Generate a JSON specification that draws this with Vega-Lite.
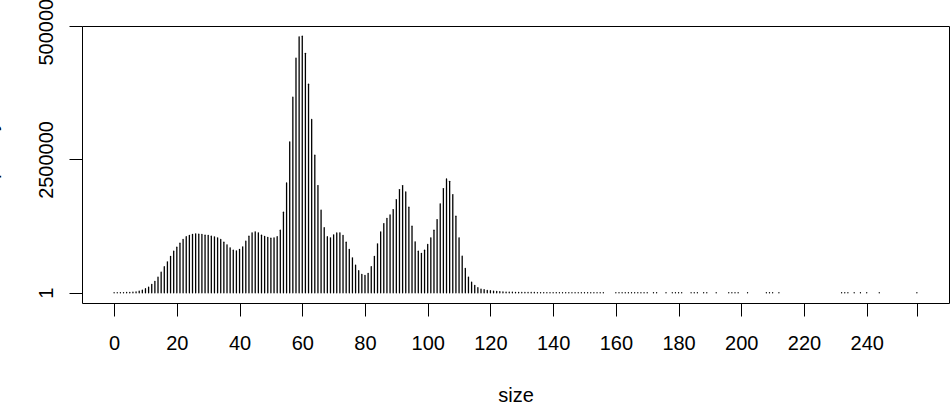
{
  "$schema": "https://vega.github.io/schema/vega-lite/v6.json",
  "width": 867,
  "height": 277,
  "autosize": {"type": "none"},
  "padding": {"left": 82, "top": 26, "right": 1, "bottom": 107},
  "background": "white",
  "config": {"view": {"stroke": "black", "strokeWidth": 1}, "font": "Liberation Sans"},
  "data": {"values": [
    {"size": 0, "frequency": 800}, {"size": 1, "frequency": 1500}, {"size": 2, "frequency": 2500}, {"size": 3, "frequency": 3500},
    {"size": 4, "frequency": 5000}, {"size": 5, "frequency": 7000}, {"size": 6, "frequency": 10000}, {"size": 7, "frequency": 16000},
    {"size": 8, "frequency": 31000}, {"size": 9, "frequency": 50000}, {"size": 10, "frequency": 75000}, {"size": 11, "frequency": 106000},
    {"size": 12, "frequency": 156000}, {"size": 13, "frequency": 212000}, {"size": 14, "frequency": 293000}, {"size": 15, "frequency": 387000},
    {"size": 16, "frequency": 487000}, {"size": 17, "frequency": 580000}, {"size": 18, "frequency": 680000}, {"size": 19, "frequency": 780000},
    {"size": 20, "frequency": 855000}, {"size": 21, "frequency": 930000}, {"size": 22, "frequency": 1000000}, {"size": 23, "frequency": 1050000},
    {"size": 24, "frequency": 1074000}, {"size": 25, "frequency": 1092000}, {"size": 26, "frequency": 1105000}, {"size": 27, "frequency": 1099000},
    {"size": 28, "frequency": 1092000}, {"size": 29, "frequency": 1080000}, {"size": 30, "frequency": 1074000}, {"size": 31, "frequency": 1061000},
    {"size": 32, "frequency": 1049000}, {"size": 33, "frequency": 1030000}, {"size": 34, "frequency": 1000000}, {"size": 35, "frequency": 949000},
    {"size": 36, "frequency": 899000}, {"size": 37, "frequency": 843000}, {"size": 38, "frequency": 799000}, {"size": 39, "frequency": 787000},
    {"size": 40, "frequency": 811000}, {"size": 41, "frequency": 861000}, {"size": 42, "frequency": 968000}, {"size": 43, "frequency": 1061000},
    {"size": 44, "frequency": 1124000}, {"size": 45, "frequency": 1142000}, {"size": 46, "frequency": 1124000}, {"size": 47, "frequency": 1080000},
    {"size": 48, "frequency": 1055000}, {"size": 49, "frequency": 1036000}, {"size": 50, "frequency": 1024000}, {"size": 51, "frequency": 1030000},
    {"size": 52, "frequency": 1050000}, {"size": 53, "frequency": 1174000}, {"size": 54, "frequency": 1510000}, {"size": 55, "frequency": 2060000},
    {"size": 56, "frequency": 2830000}, {"size": 57, "frequency": 3670000}, {"size": 58, "frequency": 4400000}, {"size": 59, "frequency": 4800000},
    {"size": 60, "frequency": 4810000}, {"size": 61, "frequency": 4490000}, {"size": 62, "frequency": 3910000}, {"size": 63, "frequency": 3250000},
    {"size": 64, "frequency": 2580000}, {"size": 65, "frequency": 2010000}, {"size": 66, "frequency": 1550000}, {"size": 67, "frequency": 1220000},
    {"size": 68, "frequency": 1050000}, {"size": 69, "frequency": 1030000}, {"size": 70, "frequency": 1086000}, {"size": 71, "frequency": 1120000},
    {"size": 72, "frequency": 1124000}, {"size": 73, "frequency": 1074000}, {"size": 74, "frequency": 949000}, {"size": 75, "frequency": 811000},
    {"size": 76, "frequency": 655000}, {"size": 77, "frequency": 518000}, {"size": 78, "frequency": 412000}, {"size": 79, "frequency": 343000},
    {"size": 80, "frequency": 325000}, {"size": 81, "frequency": 362000}, {"size": 82, "frequency": 487000}, {"size": 83, "frequency": 680000},
    {"size": 84, "frequency": 918000}, {"size": 85, "frequency": 1142000}, {"size": 86, "frequency": 1298000}, {"size": 87, "frequency": 1392000},
    {"size": 88, "frequency": 1460000}, {"size": 89, "frequency": 1560000}, {"size": 90, "frequency": 1748000}, {"size": 91, "frequency": 1935000},
    {"size": 92, "frequency": 2010000}, {"size": 93, "frequency": 1890000}, {"size": 94, "frequency": 1604000}, {"size": 95, "frequency": 1248000},
    {"size": 96, "frequency": 955000}, {"size": 97, "frequency": 780000}, {"size": 98, "frequency": 737000}, {"size": 99, "frequency": 799000},
    {"size": 100, "frequency": 905000}, {"size": 101, "frequency": 1030000}, {"size": 102, "frequency": 1174000}, {"size": 103, "frequency": 1373000},
    {"size": 104, "frequency": 1667000}, {"size": 105, "frequency": 1954000}, {"size": 106, "frequency": 2135000}, {"size": 107, "frequency": 2090000},
    {"size": 108, "frequency": 1841000}, {"size": 109, "frequency": 1436000}, {"size": 110, "frequency": 1030000}, {"size": 111, "frequency": 687000},
    {"size": 112, "frequency": 456000}, {"size": 113, "frequency": 293000}, {"size": 114, "frequency": 200000}, {"size": 115, "frequency": 137000},
    {"size": 116, "frequency": 94000}, {"size": 117, "frequency": 69000}, {"size": 118, "frequency": 56000}, {"size": 119, "frequency": 44000},
    {"size": 120, "frequency": 37000}, {"size": 121, "frequency": 31000}, {"size": 122, "frequency": 25000}, {"size": 123, "frequency": 20000},
    {"size": 124, "frequency": 16000}, {"size": 125, "frequency": 13000}, {"size": 126, "frequency": 11000}, {"size": 127, "frequency": 9000},
    {"size": 128, "frequency": 8000}, {"size": 129, "frequency": 7000}, {"size": 130, "frequency": 6200}, {"size": 131, "frequency": 5600},
    {"size": 132, "frequency": 5100}, {"size": 133, "frequency": 4600}, {"size": 134, "frequency": 4200}, {"size": 135, "frequency": 3800},
    {"size": 136, "frequency": 3500}, {"size": 137, "frequency": 3200}, {"size": 138, "frequency": 2900}, {"size": 139, "frequency": 2700},
    {"size": 140, "frequency": 2500}, {"size": 141, "frequency": 2300}, {"size": 142, "frequency": 2100}, {"size": 143, "frequency": 1900},
    {"size": 144, "frequency": 1800}, {"size": 145, "frequency": 1600}, {"size": 146, "frequency": 1500}, {"size": 147, "frequency": 1400},
    {"size": 148, "frequency": 1300}, {"size": 149, "frequency": 1200}, {"size": 150, "frequency": 1100}, {"size": 151, "frequency": 1000},
    {"size": 152, "frequency": 900}, {"size": 153, "frequency": 800}, {"size": 154, "frequency": 700}, {"size": 155, "frequency": 600},
    {"size": 156, "frequency": 500},
    {"size": 160, "frequency": 300}, {"size": 161, "frequency": 280}, {"size": 162, "frequency": 260}, {"size": 163, "frequency": 240},
    {"size": 164, "frequency": 220}, {"size": 165, "frequency": 200}, {"size": 166, "frequency": 180}, {"size": 167, "frequency": 160},
    {"size": 168, "frequency": 140}, {"size": 169, "frequency": 120}, {"size": 170, "frequency": 100},
    {"size": 172, "frequency": 80}, {"size": 173, "frequency": 60}, {"size": 176, "frequency": 50},
    {"size": 178, "frequency": 40}, {"size": 179, "frequency": 35}, {"size": 180, "frequency": 30}, {"size": 181, "frequency": 25},
    {"size": 184, "frequency": 20}, {"size": 185, "frequency": 18}, {"size": 186, "frequency": 16}, {"size": 188, "frequency": 14}, {"size": 189, "frequency": 12},
    {"size": 192, "frequency": 10},
    {"size": 196, "frequency": 9}, {"size": 197, "frequency": 8}, {"size": 198, "frequency": 7}, {"size": 199, "frequency": 6},
    {"size": 202, "frequency": 5},
    {"size": 208, "frequency": 4}, {"size": 209, "frequency": 4}, {"size": 210, "frequency": 3}, {"size": 212, "frequency": 3},
    {"size": 232, "frequency": 2}, {"size": 233, "frequency": 2}, {"size": 234, "frequency": 2}, {"size": 236, "frequency": 2},
    {"size": 238, "frequency": 1}, {"size": 240, "frequency": 1}, {"size": 244, "frequency": 1}, {"size": 256, "frequency": 1}
  ]},
  "mark": {"type": "rule", "color": "black", "strokeWidth": 1.3, "strokeCap": "round"},
  "encoding": {
    "x": {
      "field": "size", "type": "quantitative",
      "scale": {"domain": [-10.24, 266.24], "nice": false, "zero": false},
      "axis": {
        "values": [0, 20, 40, 60, 80, 100, 120, 140, 160, 180, 200, 220, 240, 256],
        "labelExpr": "datum.value == 256 ? '' : datum.label",
        "domain": false, "grid": false,
        "tickSize": 13, "tickColor": "black", "tickWidth": 1,
        "labelFont": "Liberation Sans", "labelFontSize": 20, "labelColor": "black",
        "labelPadding": 33, "labelBaseline": "alphabetic",
        "labelOverlap": false, "labelFlush": false, "labelBound": false,
        "title": "size", "titleFont": "Liberation Sans", "titleFontSize": 20, "titleFontWeight": "normal",
        "titleColor": "black", "titleY": 98, "titleBaseline": "alphabetic", "titleAnchor": "middle"
      }
    },
    "y": {
      "field": "frequency", "type": "quantitative",
      "scale": {"domain": [-192400, 5002400], "nice": false, "zero": false},
      "axis": {
        "values": [1, 2500000, 5000000], "format": "d",
        "domain": false, "grid": false,
        "tickSize": 13, "tickColor": "black", "tickWidth": 1,
        "labelFont": "Liberation Sans", "labelFontSize": 20, "labelColor": "black",
        "labelAngle": 270, "labelAlign": "center", "labelBaseline": "alphabetic", "labelPadding": 17,
        "labelOverlap": false, "labelFlush": false, "labelBound": false,
        "title": "frequency", "titleFont": "Liberation Sans", "titleFontSize": 20, "titleFontWeight": "normal",
        "titleColor": "black", "titleAngle": 270, "titleX": -86, "titleY": 138.5,
        "titleAlign": "center", "titleBaseline": "alphabetic"
      }
    },
    "y2": {"datum": 0}
  }
}
